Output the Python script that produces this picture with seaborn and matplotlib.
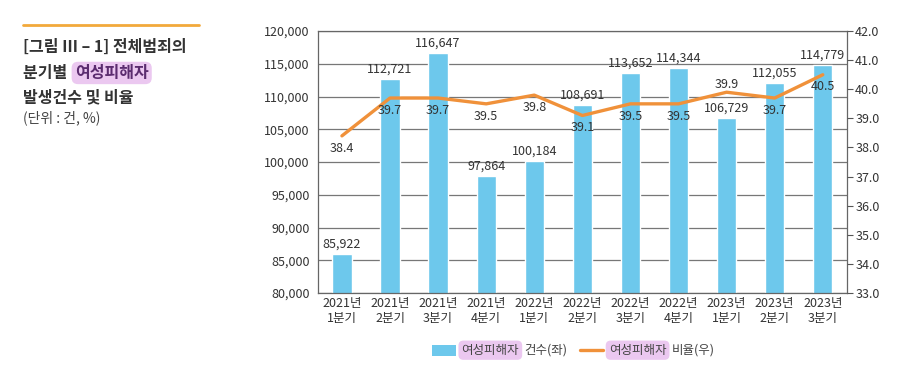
import numpy as np
import pandas as pd
import seaborn as sns
import matplotlib.pyplot as plt
from matplotlib.patches import Rectangle
from matplotlib.lines import Line2D

# data
quarters = ['2021년\n1분기', '2021년\n2분기', '2021년\n3분기', '2021년\n4분기',
            '2022년\n1분기', '2022년\n2분기', '2022년\n3분기', '2022년\n4분기',
            '2023년\n1분기', '2023년\n2분기', '2023년\n3분기']
counts = [85922, 112721, 116647, 97864, 100184, 108691, 113652, 114344, 106729, 112055, 114779]
ratios = [38.4, 39.7, 39.7, 39.5, 39.8, 39.1, 39.5, 39.5, 39.9, 39.7, 40.5]
label_above = [False, False, False, False, False, False, False, False, True, False, False]

sns.set_style("white")
plt.rcParams['font.family'] = ['Liberation Sans Narrow', 'Noto Sans CJK KR', 'DejaVu Sans']

BAR = '#6DC8EC'
LINE = '#F0913A'
HL = '#EBC8F0'
TXT = '#333333'

df = pd.DataFrame({'quarter': quarters, 'count': counts, 'ratio': ratios})

fig = plt.figure(figsize=(8.98, 3.84), dpi=100)
ax = fig.add_axes([0.354, 0.237, 0.589, 0.682])

# 막대 (건수)
sns.barplot(data=df, x='quarter', y='count', color=BAR, width=0.4, ax=ax, saturation=1)
ax.set_ylim(80000, 120000)
ax.set_yticks(np.arange(80000, 120001, 5000))
ax.set_yticklabels(['{:,}'.format(v) for v in range(80000, 120001, 5000)], fontsize=9, color=TXT)
ax.set_xlim(-0.5, len(quarters) - 0.5)
ax.set_xlabel('')
ax.set_ylabel('')
ax.tick_params(axis='x', length=0, labelsize=9, labelcolor=TXT, pad=3)
ax.tick_params(axis='y', length=0, pad=6)
ax.set_xticks(np.arange(len(quarters) - 1) + 0.5, minor=True)
ax.tick_params(axis='x', which='minor', direction='in', length=4, color='#555555')
ax.yaxis.grid(True, color='#777777', linewidth=0.9)
ax.set_axisbelow(True)
for s in ['left', 'right', 'bottom', 'top']:
    ax.spines[s].set_visible(True)
    ax.spines[s].set_color('#666666')
    ax.spines[s].set_linewidth(0.9)

for i, v in enumerate(counts):
    ax.text(i, v + 500, '{:,}'.format(v), ha='center', va='bottom', fontsize=9, color=TXT)

# 꺾은선 (비율)
ax2 = ax.twinx()
sns.lineplot(x=np.arange(len(ratios)), y=ratios, color=LINE, linewidth=2.4, ax=ax2)
ax2.set_ylim(33, 42)
ax2.set_yticks(np.arange(33, 42.1, 1))
ax2.set_yticklabels(['{:.1f}'.format(v) for v in np.arange(33, 42.1, 1)], fontsize=9, color=TXT)
ax2.tick_params(axis='y', direction='out', length=4, color='#555555', pad=2)
ax2.set_ylabel('')
for s in ['left', 'right', 'bottom', 'top']:
    ax2.spines[s].set_visible(False)

for i, v in enumerate(ratios):
    dy = 0.25 if label_above[i] else -0.42
    ax2.text(i, v + dy, '{:.1f}'.format(v), ha='center', va='center', fontsize=9, color=TXT)

# 제목
fig.add_artist(Line2D([0.026, 0.222], [0.935, 0.935], color='#F2A93B', linewidth=2))
fig.text(0.026, 0.877, '[그림 Ⅲ – 1] 전체범죄의', fontsize=11.5, fontweight='bold',
         color=TXT, va='center', family=['Noto Sans CJK KR', 'DejaVu Sans'])
t1 = fig.text(0.026, 0.810, '분기별 ', fontsize=11.5, fontweight='bold',
              color=TXT, va='center', family=['Noto Sans CJK KR'])
fig.text(0.026, 0.745, '발생건수 및 비율', fontsize=11.5, fontweight='bold',
         color=TXT, va='center', family=['Noto Sans CJK KR'])
fig.text(0.026, 0.692, '(단위 : 건, %)', fontsize=10, color='#444444', va='center',
         family=['Noto Sans CJK KR'])

fig.canvas.draw()
r = fig.canvas.get_renderer()
inv = fig.transFigure.inverted()


def right_edge(t):
    bb = t.get_window_extent(r)
    return inv.transform((bb.x1, bb.y0))[0]


fig.text(right_edge(t1) + 0.004, 0.810, '여성피해자', fontsize=11.5, fontweight='bold',
         color='#5B2C6F', va='center', family=['Noto Sans CJK KR'],
         bbox=dict(boxstyle='round,pad=0.2,rounding_size=0.4', fc=HL, ec='none'))

# 범례
fig.add_artist(Rectangle((0.481, 0.074), 0.027, 0.028, transform=fig.transFigure,
                         color=BAR, lw=0))
a = fig.text(0.514, 0.088, '여성피해자', fontsize=9, color='#444444', va='center',
             family=['Noto Sans CJK KR'],
             bbox=dict(boxstyle='round,pad=0.25,rounding_size=0.4', fc=HL, ec='none'))
fig.canvas.draw()
fig.text(right_edge(a) + 0.006, 0.088, '건수(좌)', fontsize=9, color='#444444', va='center',
         family=['Noto Sans CJK KR'])
fig.add_artist(Line2D([0.646, 0.671], [0.088, 0.088], color=LINE, linewidth=2.4))
b = fig.text(0.678, 0.088, '여성피해자', fontsize=9, color='#444444', va='center',
             family=['Noto Sans CJK KR'],
             bbox=dict(boxstyle='round,pad=0.25,rounding_size=0.4', fc=HL, ec='none'))
fig.canvas.draw()
fig.text(right_edge(b) + 0.006, 0.088, '비율(우)', fontsize=9, color='#444444', va='center',
         family=['Noto Sans CJK KR'])

fig.savefig('out.png', dpi=100)
